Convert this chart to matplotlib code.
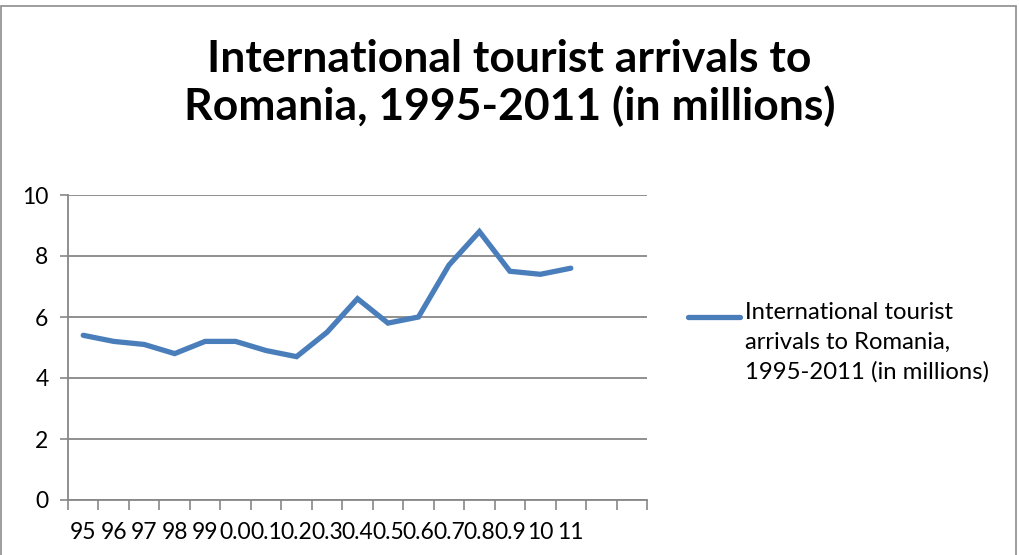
import matplotlib
matplotlib.use("Agg")
import matplotlib.pyplot as plt
from matplotlib.lines import Line2D
from matplotlib.patches import Rectangle

plt.rcParams['font.family'] = ['Lato', 'DejaVu Sans']

# data
years = ["95", "96", "97", "98", "99", "0.0", "0.1", "0.2", "0.3", "0.4",
         "0.5", "0.6", "0.7", "0.8", "0.9", "10", "11"]
arrivals = [5.4, 5.2, 5.1, 4.8, 5.2, 5.2, 4.9, 4.7, 5.5, 6.6,
            5.8, 6.0, 7.7, 8.8, 7.5, 7.4, 7.6]
n_slots = 19  # axis has two empty categories at the end
series_name = "International tourist\narrivals to Romania,\n1995-2011 (in millions)"
title = "International tourist arrivals to\nRomania, 1995-2011 (in millions)"

line_color = "#4A7EBB"
grid_color = "#878787"

fig = plt.figure(figsize=(10.19, 5.55), dpi=100)
ax = fig.add_axes([68 / 1019, 55 / 555, 579 / 1019, 305 / 555])

xs = [i + 0.5 for i in range(len(arrivals))]
ax.plot(xs, arrivals, color=line_color, lw=3.8, solid_joinstyle="miter",
        solid_capstyle="round", zorder=3)

ax.set_xlim(0, n_slots)
ax.set_ylim(0, 10)
ax.set_yticks(range(0, 11, 2))
ax.yaxis.grid(True, color=grid_color, lw=1.3)
ax.set_axisbelow(True)

# tick marks between categories, labels at category centres
ax.set_xticks(range(n_slots + 1))
ax.set_xticklabels([])
ax.set_xticks(xs, minor=True)
ax.set_xticklabels(years, minor=True, fontsize=16.5)
ax.tick_params(axis="x", which="major", length=7, color=grid_color, width=1.2)
ax.tick_params(axis="x", which="minor", length=0, pad=16)
ax.tick_params(axis="y", length=6, color=grid_color, width=1.2, labelsize=16.5, pad=8)

for s in ["top", "right"]:
    ax.spines[s].set_visible(False)
for s in ["left", "bottom"]:
    ax.spines[s].set_color(grid_color)
    ax.spines[s].set_linewidth(1.3)

fig.text(0.5, 1 - 83 / 555, title, fontsize=32, fontweight="bold",
         ha="center", va="center", linespacing=1.2)

# legend
fig.add_artist(Line2D([688 / 1019, 740 / 1019], [1 - 317 / 555] * 2,
                      color=line_color, lw=3.8, solid_capstyle="round"))
fig.text(745 / 1019, 1 - 302 / 555, series_name, fontsize=17.2, va="top",
         ha="left", linespacing=1.5)

fig.add_artist(Rectangle((0.001, -0.01), 0.996, 1.0, transform=fig.transFigure,
                         fill=False, edgecolor="#8c8c8c", lw=1.2))

fig.savefig("out.png", dpi=100)
